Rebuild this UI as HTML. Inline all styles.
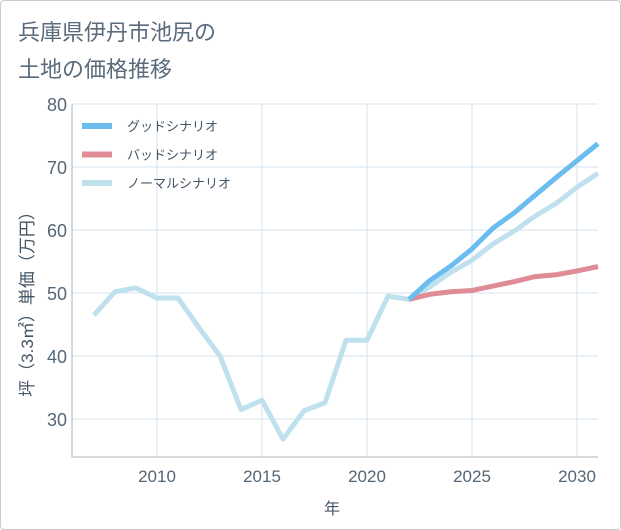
<!DOCTYPE html>
<html><head><meta charset="utf-8"><style>
body{margin:0;background:#fff;}
.card{position:absolute;left:0;top:0;width:619px;height:528px;border:1px solid #ccc;border-radius:4px;background:#fff;}
svg{position:absolute;left:0;top:0;}
text{font-family:"Liberation Sans","Noto Sans CJK JP",sans-serif;}
</style></head><body>
<div class="card"></div>
<svg width="621" height="530" id="chart">
<text x="18" y="40" font-size="22" fill="#5a6b7c">兵庫県伊丹市池尻の</text>
<text x="18" y="77" font-size="22" fill="#5a6b7c">土地の価格推移</text>
<g id="grid"></g><g id="series"></g><g id="legend"></g>
<text x="332" y="514" font-size="16" fill="#445566" text-anchor="middle">年</text>
<text transform="translate(33,300) rotate(-90)" font-size="17" fill="#445566" text-anchor="middle">坪（3.3㎡）単価（万円）</text>
</svg>
<script>
const years=[2007,2008,2009,2010,2011,2012,2013,2014,2015,2016,2017,2018,2019,2020,2021,2022,2023,2024,2025,2026,2027,2028,2029,2030,2031];
const normal=[46.5,50.2,50.8,49.2,49.2,44.5,40,31.5,33,26.8,31.3,32.6,42.5,42.5,49.5,49.0,51,53.3,55.2,57.8,59.8,62.2,64.2,66.8,69];
const futureYears=[2022,2023,2024,2025,2026,2027,2028,2029,2030,2031];
const good=[49,52,54.3,57,60.3,62.7,65.5,68.3,71,73.7];
const bad=[49,49.8,50.2,50.4,51.1,51.8,52.6,52.9,53.5,54.2];
const xTicks=[2010,2015,2020,2025,2030];
const yTicks=[30,40,50,60,70,80];
const NS='http://www.w3.org/2000/svg';
const L=72,R=598,T=104,B=457;
const x=v=>157+(v-2010)*21;
const y=v=>104+(80-v)*6.3;
function mk(tag,attrs,parent){const e=document.createElementNS(NS,tag);for(const k in attrs)e.setAttribute(k,attrs[k]);parent.appendChild(e);return e;}
const grid=document.getElementById('grid');
yTicks.forEach(t=>{
 const l=mk('line',{x1:L,x2:R,y1:y(t),y2:y(t),stroke:'#d5e3ee','stroke-width':1},grid);
 
 
 const tx=mk('text',{x:L-5,y:y(t)+7,'font-size':18,fill:'#556677','text-anchor':'end'},grid);
 tx.textContent=t;
 
 
});
xTicks.forEach(t=>{
 const l=mk('line',{x1:x(t),x2:x(t),y1:T,y2:B,stroke:'#d5e3ee','stroke-width':1},grid);
 
 
 const tx=mk('text',{x:x(t),y:B+25,'font-size':17,fill:'#556677','text-anchor':'middle'},grid);
 tx.textContent=t;
 
 
});
const ax=mk('path',{d:`M${L},${T} V${B} H${R}`,fill:'none',stroke:'#aab4bc','stroke-width':1},grid);


const sg=document.getElementById('series');
function line(xs,vals,color,name){
 const p=mk('polyline',{points:xs.map((v,i)=>x(v)+','+y(vals[i])).join(' '),fill:'none',stroke:color,'stroke-width':5,'stroke-linejoin':'round'},sg);
 
 
}
line(years,normal,'#bfe1ee','normal-scenario-line');
line(futureYears,bad,'#e08c96','bad-scenario-line');
line(futureYears,good,'#6bbdf0','good-scenario-line');
const lg=document.getElementById('legend');
[['グッドシナリオ','#6bbdf0','good'],['バッドシナリオ','#e08c96','bad'],['ノーマルシナリオ','#bfe1ee','normal']].forEach((d,i)=>{
 const g=mk('g',{},lg);
 
 
 const yy=126+i*28.5;
 mk('line',{x1:82,x2:112,y1:yy,y2:yy,stroke:d[1],'stroke-width':6},g);
 const t=mk('text',{x:127,y:yy+5,'font-size':13,fill:'#445566'},g);
 t.textContent=d[0];
});
</script>
</body></html>
